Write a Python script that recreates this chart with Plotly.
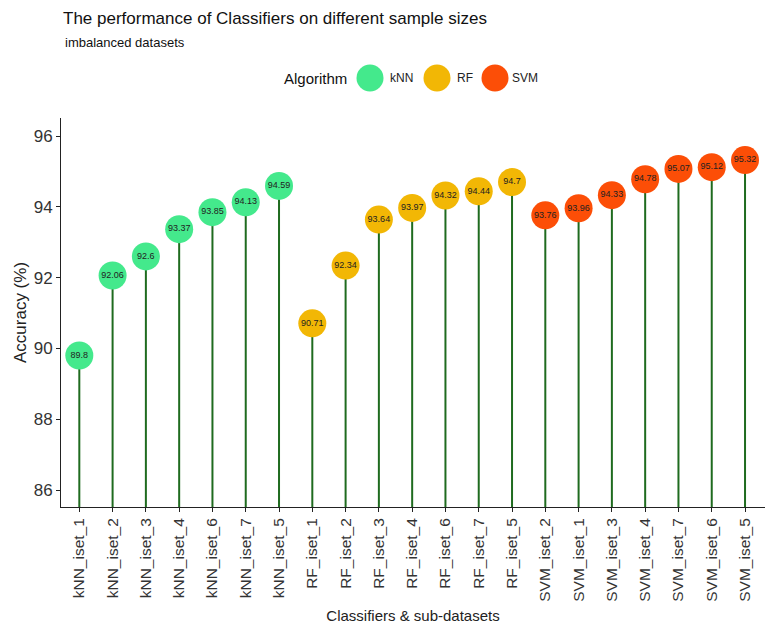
import plotly.graph_objects as go

categories = ["kNN_iset_1", "kNN_iset_2", "kNN_iset_3", "kNN_iset_4", "kNN_iset_6", "kNN_iset_7", "kNN_iset_5",
              "RF_iset_1", "RF_iset_2", "RF_iset_3", "RF_iset_4", "RF_iset_6", "RF_iset_7", "RF_iset_5",
              "SVM_iset_2", "SVM_iset_1", "SVM_iset_3", "SVM_iset_4", "SVM_iset_7", "SVM_iset_6", "SVM_iset_5"]
accuracy = [89.8, 92.06, 92.6, 93.37, 93.85, 94.13, 94.59,
            90.71, 92.34, 93.64, 93.97, 94.32, 94.44, 94.7,
            93.76, 93.96, 94.33, 94.78, 95.07, 95.12, 95.32]
algorithm = ["kNN"] * 7 + ["RF"] * 7 + ["SVM"] * 7
algorithms = ["kNN", "RF", "SVM"]
colors = {"kNN": "#44E98C", "RF": "#F2B705", "SVM": "#FC4E07"}
y_ticks = [86, 88, 90, 92, 94, 96]
y_range = [85.52, 96.51]

font = "Liberation Sans, Arial, sans-serif"
W, H = 778, 632
OFF = 8  # page body margin
L, R, T, B = 61 - OFF, 21, 118 - OFF, 133
PW, PH = W - L - R, H - T - B

fig = go.Figure()

# stems
sx, sy = [], []
for c, v in zip(categories, accuracy):
    sx += [c, c, None]
    sy += [y_range[0], v, None]
fig.add_trace(go.Scatter(x=sx, y=sy, mode="lines", line=dict(color="#1F6B1F", width=2),
                         showlegend=False, hoverinfo="skip"))

for a in algorithms:
    xs = [c for c, g in zip(categories, algorithm) if g == a]
    ys = [v for v, g in zip(accuracy, algorithm) if g == a]
    fig.add_trace(go.Scatter(
        x=xs, y=ys, mode="markers+text", name=a, showlegend=False,
        marker=dict(size=28, color=colors[a], line=dict(width=0)),
        text=[f"{v:g}" for v in ys], textposition="middle center",
        textfont=dict(size=9, color="#222222", family=font),
    ))


# manual legend (layout decoration); page pixel -> paper coords
def px_x(p):
    return (p - OFF - L) / PW


def px_y(p):
    return 1 + (T - (p - OFF)) / PH


leg_y = 78
shapes = []
annotations = [
    dict(text="imbalanced datasets", xref="paper", yref="paper",
         x=px_x(63), y=px_y(42), xanchor="left", yanchor="middle",
         showarrow=False, font=dict(size=13, color="#111111")),
    dict(text="Algorithm", xref="paper", yref="paper",
         x=px_x(282), y=px_y(leg_y), xanchor="left", yanchor="middle",
         showarrow=False, font=dict(size=15, color="#111111")),
]
leg_circle_x = {"kNN": 370, "RF": 437, "SVM": 495}
leg_text_x = {"kNN": 388, "RF": 455, "SVM": 510}
for a in algorithms:
    shapes.append(dict(type="circle", xref="paper", yref="paper",
                       xsizemode="pixel", ysizemode="pixel",
                       xanchor=px_x(leg_circle_x[a]), yanchor=px_y(leg_y),
                       x0=-13.5, x1=13.5, y0=-13.5, y1=13.5,
                       fillcolor=colors[a], line=dict(width=0)))
    annotations.append(dict(text=a, xref="paper", yref="paper",
                            x=px_x(leg_text_x[a]), y=px_y(leg_y), xanchor="left", yanchor="middle",
                            showarrow=False, font=dict(size=12, color="#222222")))

fig.update_layout(
    width=W, height=H,
    margin=dict(l=L, r=R, t=T, b=B),
    plot_bgcolor="white", paper_bgcolor="white",
    font=dict(family=font, color="#222222"),
    title=dict(text="The performance of Classifiers on different sample sizes",
               x=(63 - OFF) / W, xanchor="left", y=1 - 10 / H, yanchor="middle",
               font=dict(size=17, color="#111111")),
    showlegend=False,
    shapes=shapes,
    annotations=annotations,
)
fig.update_xaxes(
    type="category", categoryorder="array", categoryarray=categories,
    range=[-0.55, len(categories) - 0.4], automargin=False,
    showline=True, linecolor="#222222", linewidth=1,
    ticks="outside", ticklen=4, tickcolor="#222222", tickangle=-90,
    tickfont=dict(size=15.5, color="#333333"), showgrid=False, zeroline=False,
    title=dict(text="Classifiers & sub-datasets", font=dict(size=15, color="#222222"), standoff=9),
)
fig.update_yaxes(
    range=y_range, tickvals=y_ticks, automargin=False,
    showline=True, linecolor="#222222", linewidth=1,
    ticks="outside", ticklen=4, tickcolor="#222222",
    tickfont=dict(size=17, color="#333333"), showgrid=False, zeroline=False,
    title=dict(text="Accuracy (%)", font=dict(size=17, color="#222222"), standoff=2),
)

fig.write_html("out.html")
